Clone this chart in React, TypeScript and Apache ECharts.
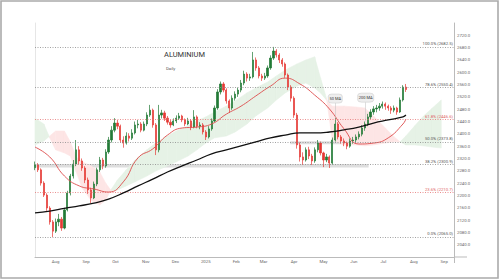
import React, { useEffect, useRef } from 'react';
import * as echarts from 'echarts';

// ---------- data ----------
const candleDates = [
  '2024-07-11','2024-07-14','2024-07-17','2024-07-20','2024-07-23','2024-07-26','2024-07-29','2024-08-01','2024-08-04','2024-08-07',
  '2024-08-10','2024-08-13','2024-08-16','2024-08-19','2024-08-22','2024-08-25','2024-08-28','2024-08-31','2024-09-03','2024-09-06',
  '2024-09-09','2024-09-12','2024-09-15','2024-09-18','2024-09-21','2024-09-24','2024-09-27','2024-09-30','2024-10-03','2024-10-06',
  '2024-10-09','2024-10-12','2024-10-15','2024-10-18','2024-10-21','2024-10-24','2024-10-27','2024-10-30','2024-11-02','2024-11-05',
  '2024-11-08','2024-11-11','2024-11-14','2024-11-17','2024-11-20','2024-11-23','2024-11-26','2024-11-29','2024-12-02','2024-12-05',
  '2024-12-08','2024-12-11','2024-12-14','2024-12-17','2024-12-20','2024-12-23','2024-12-26','2024-12-29','2025-01-01','2025-01-04',
  '2025-01-07','2025-01-10','2025-01-13','2025-01-16','2025-01-19','2025-01-22','2025-01-25','2025-01-28','2025-01-31','2025-02-03',
  '2025-02-06','2025-02-09','2025-02-12','2025-02-15','2025-02-18','2025-02-21','2025-02-24','2025-02-27','2025-03-02','2025-03-05',
  '2025-03-08','2025-03-11','2025-03-14','2025-03-17','2025-03-20','2025-03-23','2025-03-26','2025-03-29','2025-04-01','2025-04-04',
  '2025-04-07','2025-04-10','2025-04-13','2025-04-16','2025-04-19','2025-04-22','2025-04-25','2025-04-28','2025-05-01','2025-05-04',
  '2025-05-07','2025-05-10','2025-05-13','2025-05-16','2025-05-19','2025-05-22','2025-05-25','2025-05-28','2025-05-31','2025-06-03',
  '2025-06-06','2025-06-09','2025-06-12','2025-06-15','2025-06-18','2025-06-21','2025-06-24','2025-06-27','2025-06-30','2025-07-03',
  '2025-07-06','2025-07-09','2025-07-12','2025-07-15','2025-07-18','2025-07-21','2025-07-24',
];

// [open, close, low, high]
const candleOHLC: number[][] = [
  [2290,2299,2282,2310],[2299,2283,2276,2305],[2283,2240,2232,2288],[2240,2201,2195,2246],[2201,2159,2150,2207],
  [2159,2114,2105,2165],[2114,2084,2065,2120],[2084,2114,2078,2125],[2114,2123,2100,2140],[2123,2094,2085,2130],
  [2094,2153,2090,2160],[2153,2208,2148,2215],[2208,2263,2200,2270],[2263,2302,2255,2315],[2302,2348,2295,2380],
  [2348,2312,2300,2360],[2312,2289,2280,2320],[2289,2250,2240,2295],[2250,2218,2205,2258],[2218,2192,2175,2225],
  [2192,2237,2188,2245],[2237,2283,2230,2290],[2283,2315,2276,2325],[2315,2296,2285,2322],[2296,2341,2290,2350],
  [2341,2380,2335,2390],[2380,2412,2372,2425],[2412,2435,2405,2451],[2435,2425,2415,2445],[2425,2380,2372,2430],
  [2380,2370,2355,2392],[2370,2393,2365,2405],[2393,2386,2375,2402],[2386,2403,2380,2415],[2403,2429,2398,2440],
  [2429,2432,2418,2445],[2432,2412,2405,2438],[2412,2432,2408,2440],[2432,2461,2425,2470],[2461,2477,2455,2494],
  [2477,2429,2420,2482],[2429,2348,2331,2435],[2348,2461,2340,2494],[2461,2468,2450,2478],[2468,2451,2442,2475],
  [2451,2438,2430,2458],[2438,2429,2420,2445],[2429,2442,2425,2450],[2442,2451,2435,2460],[2451,2458,2445,2468],
  [2458,2445,2438,2462],[2445,2432,2425,2450],[2432,2442,2428,2452],[2442,2422,2412,2448],[2422,2455,2418,2477],
  [2455,2425,2418,2460],[2425,2429,2415,2438],[2429,2406,2398,2435],[2406,2390,2380,2412],[2390,2416,2385,2425],
  [2416,2442,2410,2450],[2442,2484,2438,2492],[2484,2536,2478,2545],[2536,2562,2528,2570],[2562,2542,2535,2568],
  [2542,2507,2498,2548],[2507,2484,2468,2512],[2484,2516,2478,2525],[2516,2529,2508,2538],[2529,2542,2520,2550],
  [2542,2565,2535,2575],[2565,2594,2558,2605],[2594,2581,2570,2600],[2581,2585,2572,2595],[2585,2640,2580,2666],
  [2640,2614,2605,2648],[2614,2588,2580,2620],[2588,2581,2572,2595],[2581,2588,2575,2598],[2588,2614,2582,2622],
  [2614,2646,2608,2655],[2646,2669,2640,2682.5],[2669,2656,2648,2675],[2656,2640,2630,2662],[2640,2627,2618,2646],
  [2627,2591,2582,2632],[2591,2552,2542,2596],[2552,2516,2505,2558],[2516,2461,2452,2522],[2461,2364,2352,2468],
  [2364,2325,2310,2372],[2325,2315,2299,2340],[2315,2348,2310,2356],[2348,2328,2318,2358],[2328,2312,2299,2335],
  [2312,2348,2306,2356],[2348,2370,2340,2380],[2370,2338,2330,2375],[2338,2315,2292,2342],[2315,2325,2308,2335],
  [2325,2305,2289,2330],[2305,2380,2300,2388],[2380,2432,2375,2451],[2432,2390,2382,2438],[2390,2377,2368,2396],
  [2377,2370,2360,2385],[2370,2360,2350,2375],[2360,2377,2355,2385],[2377,2380,2368,2390],[2380,2390,2372,2398],
  [2390,2399,2382,2408],[2399,2419,2392,2428],[2419,2432,2410,2440],[2432,2455,2425,2465],[2455,2471,2448,2480],
  [2471,2481,2462,2490],[2481,2484,2470,2494],[2484,2490,2475,2500],[2490,2497,2482,2505],[2497,2490,2478,2502],
  [2490,2484,2475,2495],[2484,2477,2465,2490],[2477,2484,2470,2492],[2484,2471,2462,2488],[2471,2510,2468,2518],
  [2510,2552,2505,2558],[2552,2544,2536,2562],
];

const maDates = [
  '2024-07-11','2024-07-26','2024-08-10','2024-08-25','2024-09-09','2024-09-24','2024-10-09','2024-10-24','2024-11-08',
  '2024-11-23','2024-12-08','2024-12-23','2025-01-07','2025-01-22','2025-02-06','2025-02-21','2025-03-08','2025-03-23',
  '2025-04-07','2025-04-22','2025-05-07','2025-05-22','2025-06-06','2025-06-21','2025-07-06','2025-07-21','2025-07-24',
];
const ma50 = [2357,2325,2263,2231,2221,2211,2244,2322,2351,2396,2419,2422,2432,2464,2490,2523,2555,2581,2562,2526,2481,2416,2367,2370,2387,2432,2448];
const ma200 = [2143,2149,2158,2166,2175,2188,2208,2231,2253,2276,2296,2315,2335,2348,2361,2374,2387,2396,2403,2403,2406,2413,2422,2435,2445,2455,2461];

const cloudDates = [
  '2024-07-11','2024-07-20','2024-07-26','2024-08-01','2024-08-10','2024-08-16','2024-08-22','2024-08-28','2024-09-06','2024-09-15',
  '2024-09-21','2024-09-27','2024-10-03','2024-10-12','2024-10-21','2024-11-02','2024-11-11','2024-11-23','2024-12-02','2024-12-14',
  '2024-12-23','2025-01-01','2025-01-10','2025-01-22','2025-01-31','2025-02-12','2025-02-21','2025-03-05','2025-03-14','2025-03-23',
  '2025-04-04','2025-04-13','2025-04-22','2025-04-28','2025-05-04','2025-05-10','2025-05-22','2025-06-03','2025-06-12','2025-06-21',
  '2025-07-03','2025-07-12','2025-07-18','2025-07-24','2025-08-02','2025-08-11','2025-08-20','2025-08-29',
];
const spanA = [2451,2432,2387,2348,2338,2328,2276,2224,2185,2169,2185,2221,2250,2283,2315,2348,2370,2393,2409,2426,
  2442,2455,2471,2490,2507,2533,2549,2568,2588,2607,2627,2640,2650,2581,2516,2380,2364,2364,2361,2364,
  2370,2374,2374,2393,2426,2458,2484,2510];
const spanB = [2364,2377,2393,2409,2409,2374,2325,2309,2296,2276,2240,2214,2218,2231,2244,2263,2279,2296,2309,2328,
  2348,2370,2387,2393,2406,2432,2458,2484,2510,2533,2555,2565,2549,2533,2510,2490,2490,2487,2484,2458,
  2419,2390,2374,2364,2364,2361,2357,2354];

const fibRatios = [1, 0.786, 0.618, 0.5, 0.382, 0.236, 0];
const fibRed = [false, false, true, false, false, true, false];
const fibHigh = 2682.5;
const fibLow = 2065;

const bandStart = ['2024-07-11', '2025-03-28'];
const bandEnd = ['2025-06-16', '2025-06-16'];
const bandLow = [2291, 2366];
const bandHigh = [2302, 2376];

const monthTicks = ['2024-08-01','2024-09-01','2024-10-01','2024-11-01','2024-12-01','2025-01-01','2025-02-01',
  '2025-03-01','2025-04-01','2025-05-01','2025-06-01','2025-07-01','2025-08-01','2025-09-01'];
const monthLabels = ['Aug','Sep','Oct','Nov','Dec','2025','Feb','Mar','Apr','May','Jun','Jul','Aug','Sep'];

const lastPrice = 2544;
const lastMa200 = 2466;
const lastMa50 = 2445;

const calloutNames = ['50 MA', '200 MA'];
const calloutDates = ['2025-05-13', '2025-06-13'];
const calloutFrom = [2452, 2440];
const calloutTo = [2500, 2503];

const xMin = '2024-07-11';
const xMax = '2025-09-11';
const yMin = 2000;
const yMax = 2760;
const yInterval = 40;

const ts = (s: string): number => Date.UTC(+s.slice(0, 4), +s.slice(5, 7) - 1, +s.slice(8, 10));

const FONT = 'Roboto, "Open Sans", sans-serif';
const UP = '#227a36';
const DOWN = '#e53935';

export default function App() {
  const ref = useRef<HTMLDivElement>(null);

  useEffect(() => {
    if (!ref.current) return;
    const chart = echarts.init(ref.current, undefined, { renderer: 'svg' });

    const candleData = candleDates.map((d, i) => [ts(d), ...candleOHLC[i]]);
    const ma50Data = maDates.map((d, i) => [ts(d), ma50[i]]);
    const ma200Data = maDates.map((d, i) => [ts(d), ma200[i]]);
    const cloudTs = cloudDates.map(ts);
    const cloudData = cloudDates.map((d, i) => [cloudTs[i], spanA[i], spanB[i]]);
    const monthTs = monthTicks.map(ts);

    const fibLines = fibRatios.map((r, i) => {
      const price = fibLow + r * (fibHigh - fibLow);
      const col = fibRed[i] ? '#e57373' : '#8a8a8a';
      return {
        yAxis: price,
        lineStyle: { color: col, type: [1, 1.5], width: 0.8 },
        label: {
          show: true,
          position: 'insideEndTop',
          distance: 1,
          formatter: `${(r * 100).toFixed(1)}% (${price.toFixed(1)})`,
          fontSize: 4.2,
          color: fibRed[i] ? '#e06666' : '#555',
          fontFamily: FONT,
        },
      };
    });

    const tag = (v: number, bg: string) => ({
      yAxis: v,
      lineStyle: { opacity: 0, width: 0 },
      label: {
        show: true,
        position: 'end',
        distance: 1,
        formatter: v.toFixed(2),
        backgroundColor: bg,
        color: '#fff',
        padding: [0.4, 1.5, 0, 1.5],
        fontSize: 3.8,
        lineHeight: 4,
        fontFamily: FONT,
      },
    });

    const option: any = {
      animation: false,
      backgroundColor: '#ffffff',
      title: [
        { text: 'ALUMINIUM', left: 164, top: 50, padding: 0,
          textStyle: { fontSize: 7.5, fontWeight: 'normal', color: '#333', fontFamily: FONT } },
        { text: 'Daily', left: 166, top: 66, padding: 0,
          textStyle: { fontSize: 4.3, fontWeight: 'normal', color: '#555', fontFamily: FONT } },
      ],
      grid: { left: 35, right: 46, top: 23, bottom: 23 },
      xAxis: {
        type: 'value',
        min: ts(xMin),
        max: ts(xMax),
        scale: true,
        axisLine: { show: true, lineStyle: { color: '#bbbbbb', width: 1 } },
        axisTick: { show: false },
        splitLine: { show: false },
        axisLabel: {
          customValues: monthTs,
          fontSize: 4.3,
          color: '#666',
          margin: 2,
          fontFamily: FONT,
          formatter: (v: number) => {
            let best = 0;
            let bd = Infinity;
            monthTs.forEach((t, i) => { const d = Math.abs(t - v); if (d < bd) { bd = d; best = i; } });
            return monthLabels[best];
          },
        },
      },
      yAxis: [
        {
          type: 'value',
          position: 'right',
          min: yMin,
          max: yMax,
          interval: yInterval,
          axisLine: { show: true, lineStyle: { color: '#bbbbbb', width: 1 } },
          axisTick: { show: false },
          splitLine: { show: false },
          axisLabel: {
            showMinLabel: false,
            showMaxLabel: false,
            fontSize: 4.3,
            color: '#666',
            margin: 3,
            fontFamily: FONT,
            formatter: (v: number) => v.toFixed(1),
          },
        },
        {
          type: 'value',
          position: 'left',
          min: yMin,
          max: yMax,
          axisLine: { show: true, lineStyle: { color: '#e6e6e6', width: 1 } },
          axisTick: { show: false },
          axisLabel: { show: false },
          splitLine: { show: false },
        },
      ],
      graphic: [
        { type: 'rect', shape: { x: 1, y: 1, width: 497, height: 277 },
          style: { fill: 'none', stroke: '#ababab', lineWidth: 1.6 }, silent: true, z: 100 },
        { type: 'line', shape: { x1: 454, y1: 257, x2: 467, y2: 257 },
          style: { stroke: '#bbbbbb', lineWidth: 1 }, silent: true },
        { type: 'line', shape: { x1: 454.5, y1: 257, x2: 454.5, y2: 263 },
          style: { stroke: '#bbbbbb', lineWidth: 1 }, silent: true },
      ],
      series: [
        {
          name: 'cloud',
          type: 'custom',
          coordinateSystem: 'cartesian2d',
          data: cloudData,
          encode: { x: 0, y: [1, 2] },
          z: 1,
          silent: true,
          renderItem: (params: any, api: any) => {
            const i = params.dataIndex;
            if (i >= cloudData.length - 1) return null;
            const a0 = api.coord([cloudTs[i], spanA[i]]);
            const a1 = api.coord([cloudTs[i + 1], spanA[i + 1]]);
            const b0 = api.coord([cloudTs[i], spanB[i]]);
            const b1 = api.coord([cloudTs[i + 1], spanB[i + 1]]);
            const green = spanA[i] + spanA[i + 1] >= spanB[i] + spanB[i + 1];
            const c = green ? '#e6f2e6' : '#fde5e5';
            return { type: 'polygon', shape: { points: [a0, a1, b1, b0] }, style: { fill: c, stroke: c, lineWidth: 0.6 } };
          },
        },
        {
          name: 'levels',
          type: 'line',
          data: [[ts(xMin), 2400]],
          showSymbol: false,
          symbol: 'none',
          lineStyle: { opacity: 0 },
          z: 2,
          silent: true,
          markArea: {
            silent: true,
            itemStyle: { color: '#dedede' },
            data: bandStart.map((s, i) => [
              { coord: [ts(s), bandLow[i]] },
              { coord: [ts(bandEnd[i]), bandHigh[i]] },
            ]),
          },
          markLine: {
            silent: true,
            symbol: ['none', 'none'],
            data: [...fibLines, tag(lastPrice, '#e53935'), tag(lastMa200, '#111111'), tag(lastMa50, '#e53935')],
          },
        },
        {
          name: 'price',
          type: 'candlestick',
          data: candleData,
          encode: { x: 0, y: [1, 2, 3, 4] },
          barWidth: 1.7,
          z: 3,
          itemStyle: { color: UP, color0: DOWN, borderColor: UP, borderColor0: DOWN, borderWidth: 0.7 },
        },
        {
          name: 'MA50',
          type: 'line',
          data: ma50Data,
          smooth: 0.5,
          showSymbol: false,
          symbol: 'none',
          z: 4,
          lineStyle: { color: '#dd4b4b', width: 0.9 },
          markLine: {
            silent: true,
            symbol: ['none', 'none'],
            label: { show: false },
            lineStyle: { color: '#bdbdbd', width: 0.5, type: 'solid' },
            data: calloutNames.map((n, i) => [
              { coord: [ts(calloutDates[i]), calloutFrom[i]] },
              { coord: [ts(calloutDates[i]), calloutTo[i]] },
            ]),
          },
          markPoint: {
            silent: true,
            data: calloutNames.map((n, i) => ({
              coord: [ts(calloutDates[i]), calloutTo[i]],
              symbol: 'roundRect',
              symbolSize: [i === 0 ? 14 : 16, 9],
              symbolOffset: [0, -4.5],
              itemStyle: { color: '#eeeeee', borderColor: '#c8c8c8', borderWidth: 0.5 },
              label: {
                show: true,
                position: 'inside',
                formatter: n,
                fontSize: 4,
                color: '#333',
                fontFamily: FONT,
              },
            })),
          },
        },
        {
          name: 'MA200',
          type: 'line',
          data: ma200Data,
          smooth: 0.5,
          showSymbol: false,
          symbol: 'none',
          z: 5,
          lineStyle: { color: '#111111', width: 1.3 },
        },
      ],
    };

    chart.setOption(option);
    return () => chart.dispose();
  }, []);

  return (
    <div
      ref={ref}
      style={{ position: 'absolute', left: 0, top: 0, width: 500, height: 280, background: '#fff' }}
    />
  );
}
